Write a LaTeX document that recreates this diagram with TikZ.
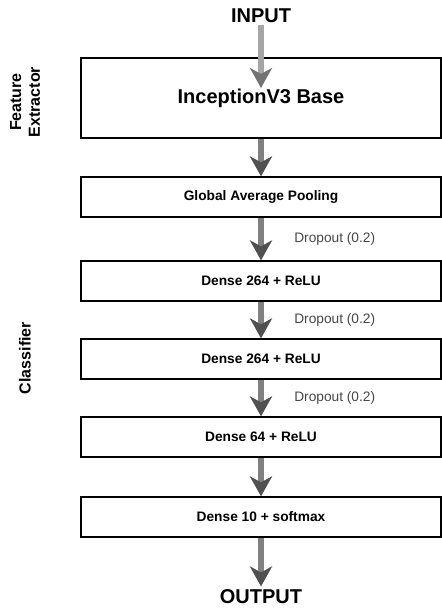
\documentclass[tikz,border=0pt]{standalone}
\usepackage{fontspec}
\setmainfont{Liberation Sans}
\usetikzlibrary{arrows.meta}
\definecolor{Shaft}{RGB}{128, 128, 128}
\definecolor{ShaftLight}{RGB}{165, 165, 165}
\definecolor{Head}{RGB}{80, 80, 80}
\definecolor{HeadLight}{RGB}{115, 115, 115}
\definecolor{Note}{RGB}{70, 70, 70}

\begin{document}
\begin{tikzpicture}[
    x=0.75pt, y=-0.75pt,
    layer/.style={draw=black, line width=0.9pt, minimum width=270pt, minimum height=30pt, inner sep=0pt, font=\fontsize{10.3}{12}\selectfont\bfseries},
    big layer/.style={layer, minimum height=60pt, font=\fontsize{15}{18}\selectfont\bfseries},
    terminal/.style={inner sep=2pt, font=\fontsize{15}{18}\selectfont\bfseries},
    side/.style={rotate=90, align=center, inner sep=0pt, font=\fontsize{12}{14}\selectfont\bfseries},
    dropout/.style={anchor=west, inner sep=0pt, text=Note, font=\fontsize{10.3}{12}\selectfont},
    flow/.style={draw=Shaft, line width=4.5pt, -{Stealth[length=15pt, width=16.5pt, inset=4.5pt, color=Head]}},
    flow light/.style={flow, draw=ShaftLight, -{Stealth[length=15pt, width=16.5pt, inset=4.5pt, color=HeadLight]}}
    ]
    \useasboundingbox (0,0) rectangle (442,612);

    % input and output
    \node [terminal] (input) at (261, 15.5) {INPUT};
    \node [terminal] (output) at (261, 596.5) {OUTPUT};

    % layers
    \node [big layer] (base) at (261, 98) {InceptionV3 Base};
    \node [layer] (pool) at (261, 197) {Global Average Pooling};
    \node [layer] (dense1) at (261, 281) {Dense 264 + ReLU};
    \node [layer] (dense2) at (261, 359) {Dense 264 + ReLU};
    \node [layer] (dense3) at (261, 437) {Dense 64 + ReLU};
    \node [layer] (dense4) at (261, 517) {Dense 10 + softmax};

    % group labels
    \node [side] (extractor) at (25, 102) {Feature\\Extractor};
    \node [side] (classifier) at (25, 358) {Classifier};

    % dropout labels
    \foreach \y [count=\i] in {239, 320, 398}
    \node [dropout] (drop\i) at (294, \y) {Dropout (0.2)};

    % data flow
    \coordinate (basein) at (261, 88);
    \draw [flow light] (input.south) -- (basein);
    \foreach \a/\b in {base/pool, pool/dense1, dense1/dense2, dense2/dense3, dense3/dense4}
    \draw [flow] (\a.south) -- (\b.north);
    \draw [flow] (dense4.south) -- (output.north);
\end{tikzpicture}
\end{document}
